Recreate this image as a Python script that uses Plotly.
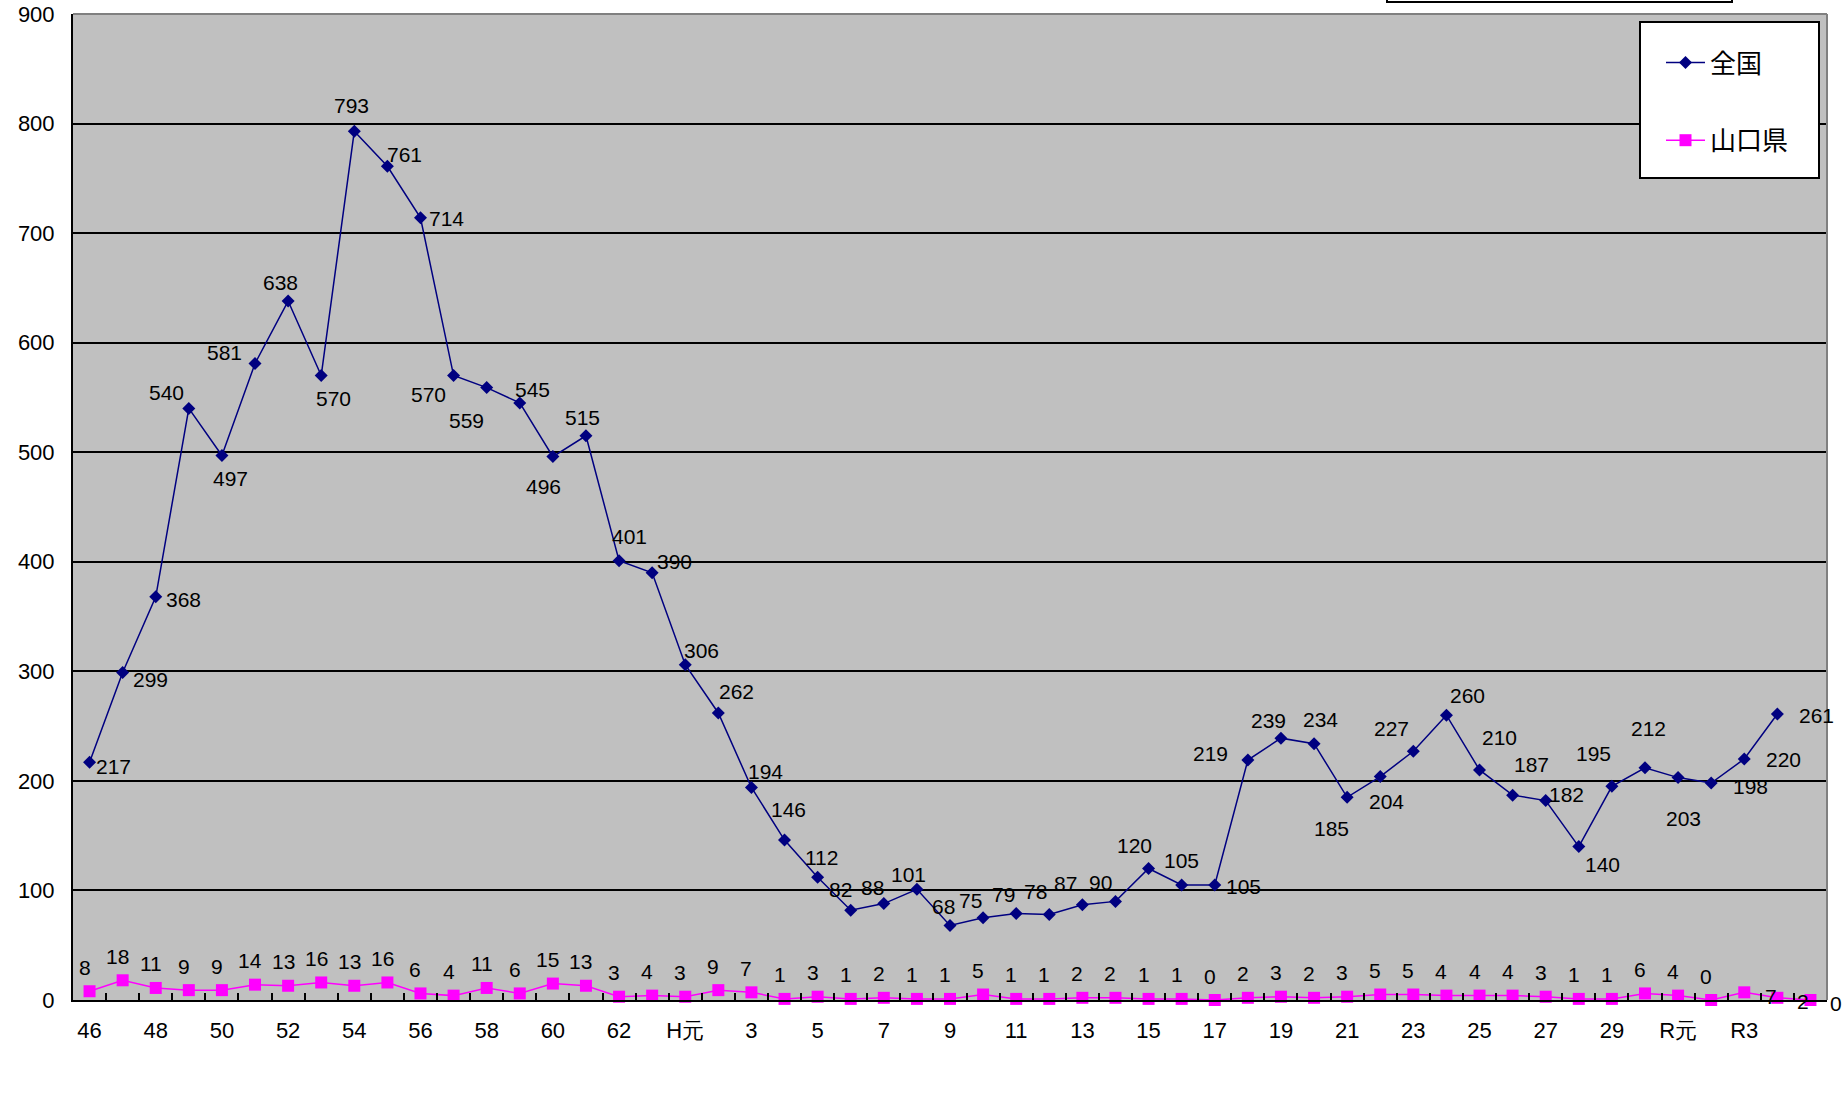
import plotly.graph_objects as go

# ---- data ----
categories = ["46", "47", "48", "49", "50", "51", "52", "53", "54", "55",
              "56", "57", "58", "59", "60", "61", "62", "63",
              "H元", "2", "3", "4", "5", "6", "7", "8", "9", "10",
              "11", "12", "13", "14", "15", "16", "17", "18", "19", "20",
              "21", "22", "23", "24", "25", "26", "27", "28", "29", "30",
              "R元", "R2", "R3", "R4", "R5"]
shown_labels = ["46", "48", "50", "52", "54", "56", "58", "60", "62", "H元",
                "3", "5", "7", "9", "11", "13", "15", "17", "19", "21",
                "23", "25", "27", "29", "R元", "R3"]
zenkoku = [217, 299, 368, 540, 497, 581, 638, 570, 793, 761,
           714, 570, 559, 545, 496, 515, 401, 390, 306, 262,
           194, 146, 112, 82, 88, 101, 68, 75, 79, 78,
           87, 90, 120, 105, 105, 219, 239, 234, 185, 204,
           227, 260, 210, 187, 182, 140, 195, 212, 203, 198,
           220, 261, None]
yamaguchi = [8, 18, 11, 9, 9, 14, 13, 16, 13, 16,
             6, 4, 11, 6, 15, 13, 3, 4, 3, 9,
             7, 1, 3, 1, 2, 1, 1, 5, 1, 1,
             2, 2, 1, 1, 0, 2, 3, 2, 3, 5,
             5, 4, 4, 4, 3, 1, 1, 6, 4, 0,
             7, 2, 0]
y_ticks = [0, 100, 200, 300, 400, 500, 600, 700, 800, 900]

# ---- label offsets (pixels: xshift, yshift) ----
zen_offsets = [(24, -4), (28, -7), (28, -3), (-22, 16), (9, -23), (-31, 11), (-8, 19), (12, -23),
               (-3, 26), (17, 12), (26, -1), (-25, -19), (-20, -33), (13, 13), (-9, -30), (-3, 18),
               (10, 24), (22, 11), (16, 14), (18, 21), (14, 16), (4, 31), (4, 20), (-10, 21),
               (-11, 16), (-8, 15), (-7, 19), (-13, 17), (-13, 19), (-14, 23), (-17, 21), (-15, 19),
               (-14, 23), (0, 24), (29, -2), (-37, 7), (-12, 18), (6, 24), (-16, -31), (6, -25),
               (-22, 23), (21, 20), (20, 32), (19, 31), (21, 6), (24, -18), (-18, 33), (4, 39),
               (5, -41), (39, -3), (39, -1), (39, -1)]
yam_default_offset = (-5, 24)
yam_special_offsets = {50: (27, -4), 51: (26, -4), 52: (26, -3)}

NAVY = "#000080"
PINK = "#FF00FF"
NUM_FONT = "Liberation Sans, Arial, sans-serif"
CJK_FONT = "Noto Sans CJK JP, Liberation Sans, sans-serif"

xs = list(range(len(categories)))
tickvals = [categories.index(lbl) for lbl in shown_labels]

fig = go.Figure()
fig.add_trace(go.Scatter(
    x=xs, y=zenkoku, name="全国", mode="lines+markers",
    line=dict(color=NAVY, width=1.5),
    marker=dict(symbol="diamond", size=10, color=NAVY),
    legendgroup="a", cliponaxis=False))
fig.add_trace(go.Scatter(
    x=xs, y=yamaguchi, name="山口県", mode="lines+markers",
    line=dict(color=PINK, width=1.5),
    marker=dict(symbol="square", size=12, color=PINK),
    legendgroup="b", cliponaxis=False))

annotations = []
for i, v in enumerate(zenkoku):
    if v is None:
        continue
    dx, dy = zen_offsets[i]
    annotations.append(dict(x=xs[i], y=v, text=str(v), showarrow=False,
                            xshift=dx, yshift=dy, xanchor="center", yanchor="middle",
                            font=dict(family=NUM_FONT, size=21, color="black")))
for i, v in enumerate(yamaguchi):
    dx, dy = yam_special_offsets.get(i, yam_default_offset)
    annotations.append(dict(x=xs[i], y=v, text=str(v), showarrow=False,
                            xshift=dx, yshift=dy, xanchor="center", yanchor="middle",
                            font=dict(family=NUM_FONT, size=21, color="black")))

W, H = 1847, 1101
ml, mr, mt, mb = 73, 20, 14, 101
pw, ph = W - ml - mr, H - mt - mb


def px_x(px):
    return (px - ml) / pw


def px_y(py):
    return (H - mb - py) / ph


shapes = [
    # grey top and right border of plot area
    dict(type="line", xref="paper", yref="paper", x0=0, x1=1, y0=1, y1=1,
         line=dict(color="#808080", width=2), layer="above"),
    dict(type="line", xref="paper", yref="paper", x0=1, x1=1, y0=0, y1=1,
         line=dict(color="#808080", width=2), layer="above"),
    # legend box
    dict(type="rect", xref="paper", yref="paper",
         x0=px_x(1640), x1=px_x(1819), y0=px_y(178), y1=px_y(22),
         fillcolor="white", line=dict(color="black", width=2), layer="above"),
    # cut-off box at the top
    dict(type="rect", xref="paper", yref="paper",
         x0=px_x(1387), x1=px_x(1732), y0=px_y(2), y1=px_y(-10),
         fillcolor="white", line=dict(color="black", width=2), layer="above"),
]

fig.update_layout(
    width=W, height=H,
    margin=dict(l=ml, r=mr, t=mt, b=mb, pad=0, autoexpand=False),
    paper_bgcolor="white",
    plot_bgcolor="#C0C0C0",
    showlegend=True,
    legend=dict(x=px_x(1661), y=px_y(39), xanchor="left", yanchor="top",
                bgcolor="rgba(0,0,0,0)", borderwidth=0, itemwidth=39,
                font=dict(family=CJK_FONT, size=26, color="black"),
                traceorder="grouped", tracegroupgap=41),
    xaxis=dict(range=[-0.5, len(categories) - 0.5], tickmode="array",
               tickvals=tickvals, ticktext=shown_labels, automargin=False,
               ticks="inside", ticklen=0, showgrid=False, zeroline=False,
               showline=True, linecolor="black", linewidth=2,
               tickfont=dict(family=NUM_FONT, size=22, color="black"),
               ticklabelstandoff=10,
               minor=dict(tick0=-0.5, dtick=1, ticks="inside", ticklen=7,
                          tickcolor="black", tickwidth=1.5, showgrid=False)),
    yaxis=dict(range=[0, 900], tickmode="array", tickvals=y_ticks, automargin=False,
               ticks="inside", ticklen=5, tickcolor="black",
               showgrid=True, gridcolor="black", gridwidth=1.5,
               zeroline=False, showline=True, linecolor="black", linewidth=2,
               tickfont=dict(family=NUM_FONT, size=22, color="black"),
               ticklabelstandoff=12),
    shapes=shapes,
    annotations=annotations,
)

fig.write_html("out.html", config={"displayModeBar": False},
               post_script="document.body.style.margin='0';document.body.style.overflow='hidden';")
